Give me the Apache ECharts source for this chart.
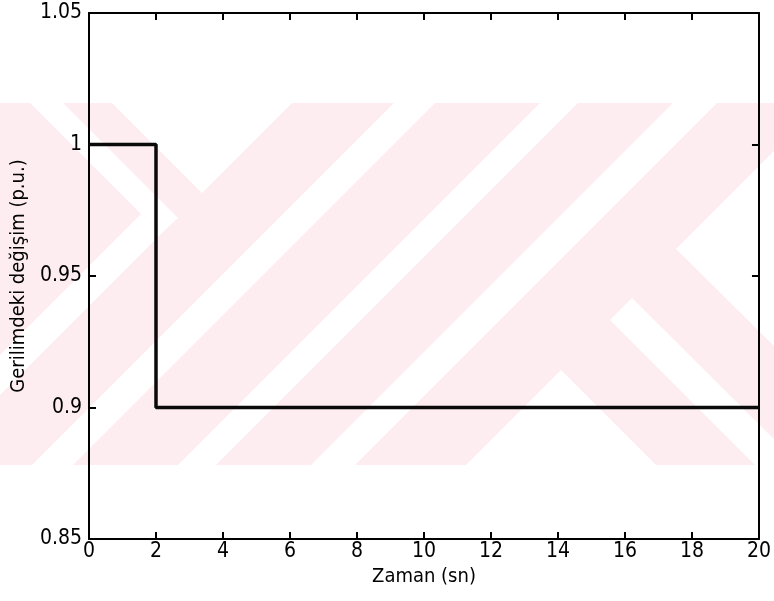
<!DOCTYPE html>
<html>
<head>
<meta charset="utf-8">
<script src="https://cdn.jsdelivr.net/npm/echarts@6/dist/echarts.min.js"></script>
<style>
  html, body { margin: 0; padding: 0; background: #ffffff; }
  #chart { width: 774px; height: 601px; }
</style>
</head>
<body>
<div id="chart"></div>
<script>
// ---- data ----
const timeValues = [0, 2, 2, 20];          // Zaman (sn)
const voltageValues = [1, 1, 0.9, 0.9];    // Gerilimdeki değişim (p.u.)
const xAxisTitle = 'Zaman (sn)';
const yAxisTitle = 'Gerilimdeki değişim (p.u.)';
const xTickValues = [0, 2, 4, 6, 8, 10, 12, 14, 16, 18, 20];
const yTickLabels = ['0.85', '0.9', '0.95', '1', '1.05'];

// ---- decoration: faint scanned watermark (background only) ----
const PINK = '#fdedf0';
const watermarkWhite = [
  [[30,103],[63,103],[178,218],[161,234]],
  [[112,103],[292,103],[202,193]],
  [[141,214],[161,234],[0,395],[0,355]],
  [[394,103],[435,103],[73,465],[32,465]],
  [[540,103],[578,103],[216,465],[178,465]],
  [[673,103],[717,103],[355,465],[311,465]],
  [[466,465],[561,370],[656,465]],
  [[610,320],[632,298],[800,465],[755,465]],
  [[676,249],[774,151],[774,346]]
];

const FONT = "'Liberation Sans Narrow', 'Arial Narrow', 'DejaVu Sans Condensed', sans-serif";
const black = '#000000';

const chart = echarts.init(document.getElementById('chart'), null, { renderer: 'canvas' });

const graphics = [{
  type: 'rect', z: -20, silent: true,
  shape: { x: 0, y: 103, width: 774, height: 362 },
  style: { fill: PINK }
}].concat(watermarkWhite.map(pts => ({
  type: 'polygon', z: -19, silent: true,
  shape: { points: pts },
  style: { fill: '#ffffff' }
})));

const tickStyle = { color: black, width: 2 };
const labelStyle = { color: black, fontSize: 21, fontFamily: FONT };
const nameStyle = { color: black, fontSize: 20, fontFamily: FONT };

const option = {
  animation: false,
  backgroundColor: '#ffffff',
  graphic: { elements: graphics },
  grid: { left: 89, right: 11, top: 13, bottom: 62, containLabel: false },
  xAxis: [
    {
      type: 'value', position: 'bottom', min: 0, max: 20, interval: 2,
      axisLine: { onZero: false, lineStyle: { color: black, width: 2 } },
      axisTick: { inside: true, length: 7, lineStyle: tickStyle },
      axisLabel: Object.assign({ margin: 2, formatter: v => (xTickValues.indexOf(v) >= 0 ? String(v) : '') }, labelStyle),
      splitLine: { show: false },
      name: xAxisTitle, nameLocation: 'middle', nameGap: 26,
      nameTextStyle: nameStyle
    },
    {
      type: 'value', position: 'top', min: 0, max: 20, interval: 2,
      axisLine: { onZero: false, lineStyle: { color: black, width: 2 } },
      axisTick: { inside: true, length: 7, lineStyle: tickStyle },
      axisLabel: { show: false },
      splitLine: { show: false }
    }
  ],
  yAxis: [
    {
      type: 'value', position: 'left', min: 0.85, max: 1.05, interval: 0.05,
      axisLine: { onZero: false, lineStyle: { color: black, width: 2 } },
      axisTick: { inside: true, length: 7, lineStyle: tickStyle },
      axisLabel: Object.assign({
        margin: 7,
        formatter: v => {
          const s = String(Math.round(v * 100) / 100);
          return yTickLabels.indexOf(s) >= 0 ? s : '';
        }
      }, labelStyle),
      splitLine: { show: false },
      name: yAxisTitle, nameLocation: 'middle', nameGap: 53,
      nameTextStyle: nameStyle
    },
    {
      type: 'value', position: 'right', min: 0.85, max: 1.05, interval: 0.05,
      axisLine: { onZero: false, lineStyle: { color: black, width: 2 } },
      axisTick: { inside: true, length: 7, lineStyle: tickStyle },
      axisLabel: { show: false },
      splitLine: { show: false }
    }
  ],
  series: [{
    type: 'line',
    xAxisIndex: 0, yAxisIndex: 0,
    data: timeValues.map((t, i) => [t, voltageValues[i]]),
    showSymbol: false,
    lineStyle: { color: '#0a0a0a', width: 3.5 },
    z: 3
  }]
};

chart.setOption(option);
</script>
</body>
</html>
